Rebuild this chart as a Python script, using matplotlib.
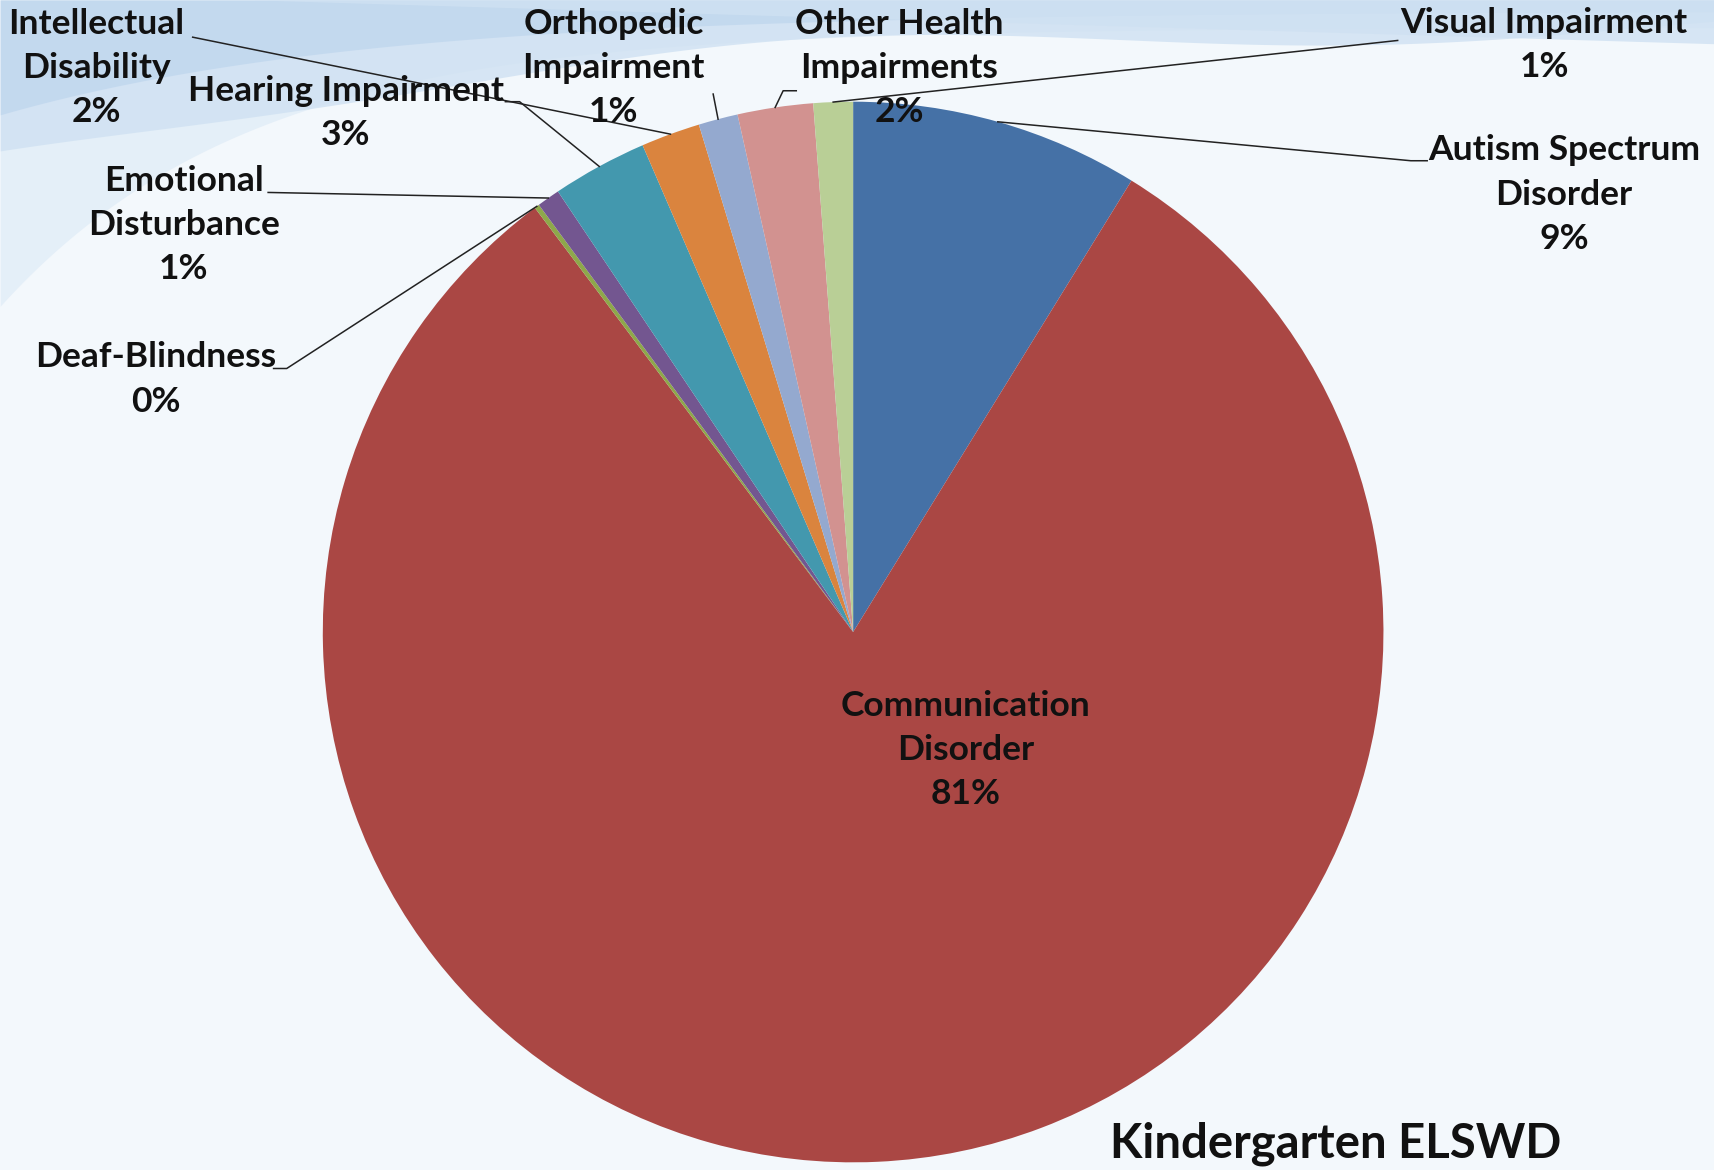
import numpy as np
import matplotlib
matplotlib.use("Agg")
import matplotlib.pyplot as plt

categories = ["Autism Spectrum\nDisorder", "Communication\nDisorder", "Deaf-Blindness",
              "Emotional\nDisturbance", "Hearing Impairment", "Intellectual\nDisability",
              "Orthopedic\nImpairment", "Other Health\nImpairments", "Visual Impairment"]
values = [8.8, 81.0, 0.15, 0.7, 2.9, 1.8, 1.2, 2.3, 1.2]
colors = ["#4571A6", "#AA4744", "#8EA84A", "#735690", "#4398AE", "#DA843E",
          "#94A9CF", "#D29290", "#B9CF96"]
title = "Kindergarten ELSWD"

W, H = 1568, 1070
def Y(y):
    return H - y

plt.rcParams['font.family'] = ['Lato', 'DejaVu Sans']
fig = plt.figure(figsize=(17.15, 11.70), dpi=100)
fig.patch.set_facecolor("#F3F8FC")
ax = fig.add_axes([0, 0, 1, 1])
ax.set_facecolor("#F3F8FC")

# decorative background swooshes (soft)
xs = np.linspace(0, W, 500)
bands = [
    (lambda x: 25 + 255 * np.exp(-x / 230.0), "#E3EEF8", 0.9),
    (lambda x: 18 + 120 * np.exp(-x / 520.0) + 12 * np.sin(x / 160.0), "#CFE1F2", 0.8),
    (lambda x: 10 + 95 * np.exp(-x / 330.0), "#BDD5ED", 0.7),
    (lambda x: np.clip(40 - 0.03 * (W - x), 0, None), "#CFE1F2", 0.8),
]
for f, c, a in bands:
    ax.fill_between(xs, Y(0), Y(np.clip(f(xs), 0, None)), color=c, alpha=a, lw=0, zorder=0)

cx, cy, R = 780, Y(578), 485
wedges, _ = ax.pie(values, colors=colors, startangle=90, counterclock=False,
                   center=(cx, cy), radius=R, wedgeprops=dict(linewidth=0))
for w in wedges:
    w.set_zorder(2)

ax.set_xlim(0, W)
ax.set_ylim(0, H)
ax.set_aspect('equal')
ax.axis('off')

label_pos = [(1430, 178), (883, 686), (142, 347), (168, 206), (316, 103),
             (88, 62), (561, 62), (822, 62), (1412, 41)]
elbows = [[(1305, 147), (1290, 147)], None, [(250, 337), (262, 337)], [(245, 176)],
          [(462, 93), (475, 93)], [(176, 34)], [(652, 86)], [(728, 83), (716, 83)],
          [(1278, 37)]]

total = sum(values)
cum = 0
fs = 25.5
for i, (cat, v) in enumerate(zip(categories, values)):
    mid = cum + v / 2
    cum += v
    ang = np.deg2rad(90 - 360 * mid / total)
    ax_, ay_ = cx + R * np.cos(ang), cy + R * np.sin(ang)
    pct = f"{round(100 * v / total):d}%"
    tx, ty = label_pos[i]
    ax.text(tx, Y(ty), f"{cat}\n{pct}", ha='center', va='center', fontsize=fs,
            fontweight='bold', color='#111111', linespacing=1.47, zorder=4)
    if elbows[i]:
        pts = [(x, Y(y)) for x, y in elbows[i]] + [(ax_, ay_)]
        ax.plot([p[0] for p in pts], [p[1] for p in pts], color='#222222', lw=1.1, zorder=3)

ax.text(1015, Y(1059), title, ha='left', va='baseline', fontsize=34, fontweight='bold',
        color='#111111', zorder=4)

fig.savefig("out.png", dpi=100, facecolor=fig.get_facecolor())
